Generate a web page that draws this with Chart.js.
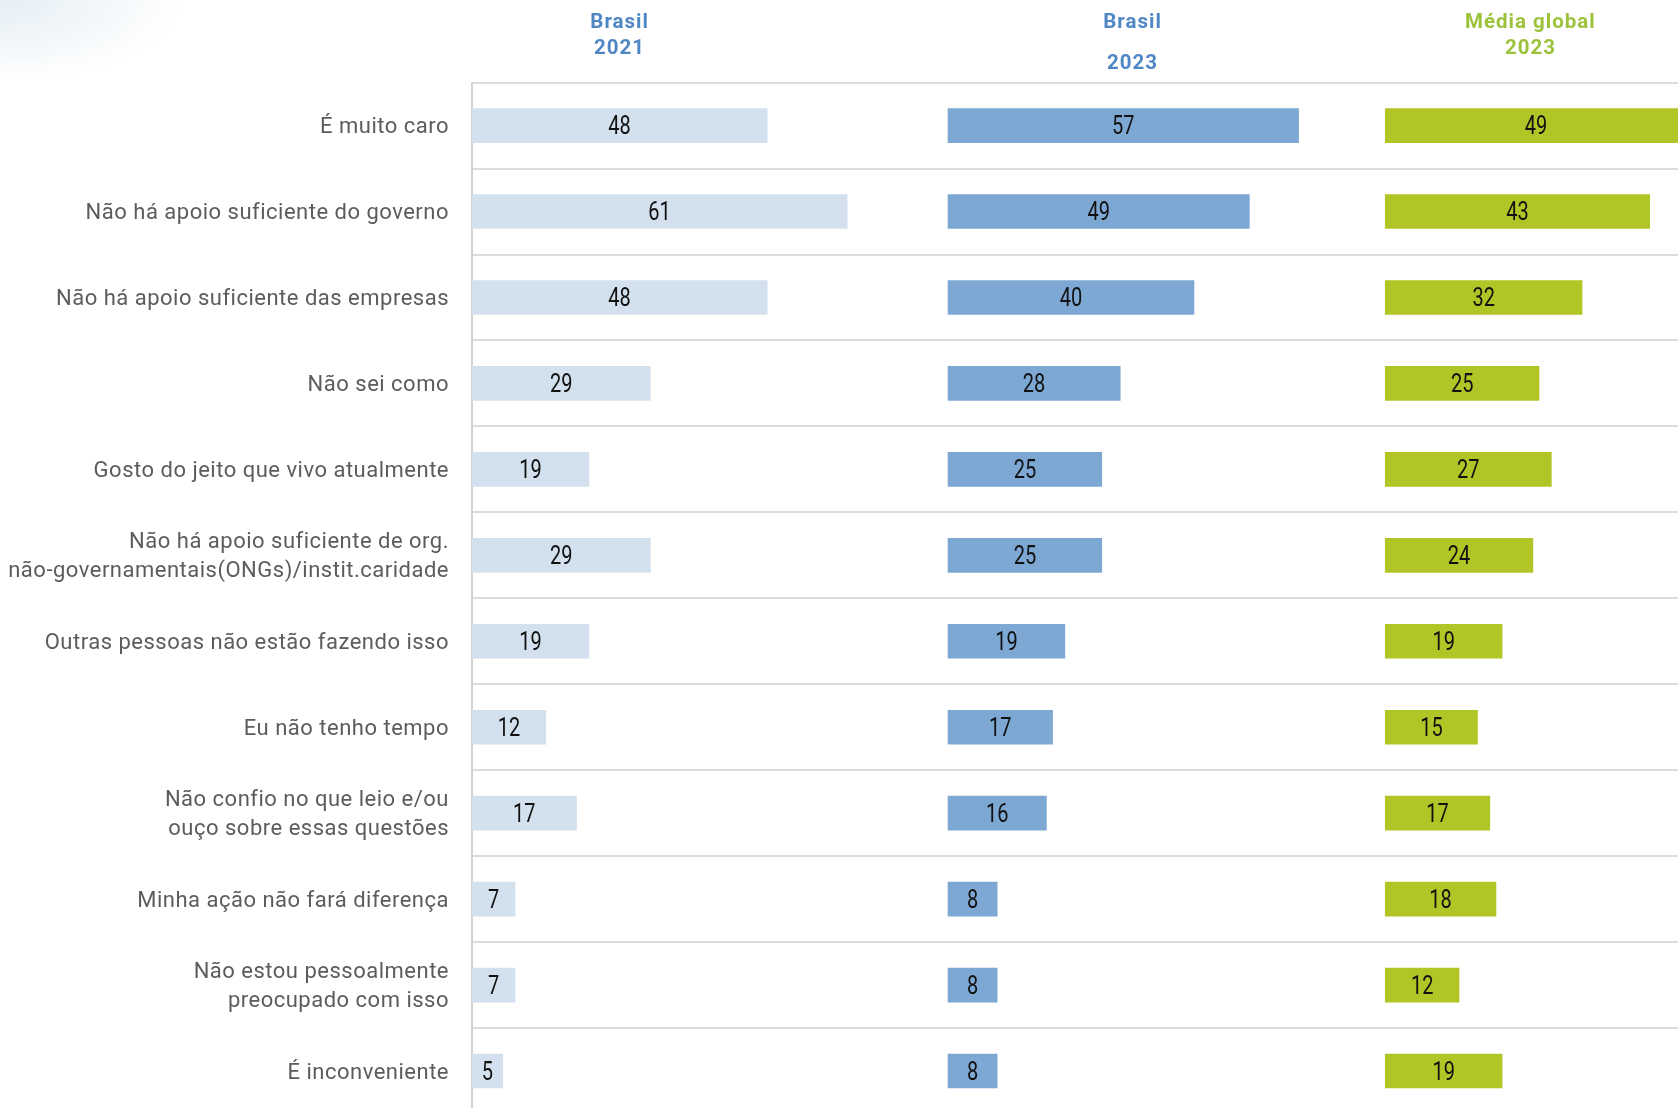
<!DOCTYPE html>
<html lang="pt">
<head>
<meta charset="utf-8">
<title>Barreiras para agir</title>
<script src="https://cdn.jsdelivr.net/npm/chart.js@4.4.1/dist/chart.umd.min.js"></script>
<style>
  html, body { margin: 0; padding: 0; width: 1678px; height: 1108px; overflow: hidden; background: #fff; }
  body {
    background:
      radial-gradient(ellipse 180px 80px at 0 0, rgba(230,239,245,1) 0%, rgba(238,244,248,0.75) 55%, rgba(255,255,255,0) 100%),
      #fff;
  }
  #wrap { position: absolute; left: 0; top: 0; width: 1678px; height: 1114px; }
</style>
</head>
<body>
<div id="wrap"><canvas id="chart"></canvas></div>
<script>
// Motivos para não agir (% de respondentes)
const categories = [
  'É muito caro',
  'Não há apoio suficiente do governo',
  'Não há apoio suficiente das empresas',
  'Não sei como',
  'Gosto do jeito que vivo atualmente',
  ['Não há apoio suficiente de org.', 'não-governamentais(ONGs)/instit.caridade'],
  'Outras pessoas não estão fazendo isso',
  'Eu não tenho tempo',
  ['Não confio no que leio e/ou', 'ouço sobre essas questões'],
  'Minha ação não fará diferença',
  ['Não estou pessoalmente', 'preocupado com isso'],
  'É inconveniente'
];
const brasil2021 = [48, 61, 48, 29, 19, 29, 19, 12, 17, 7, 7, 5];
const brasil2023 = [57, 49, 40, 28, 25, 25, 19, 17, 16, 8, 8, 8];
const global2023 = [49, 43, 32, 25, 27, 24, 19, 15, 17, 18, 12, 19];

const seriesHeaders = [['Brasil', '2021'], ['Brasil', '', '2023'], ['Média global', '2023']];

// Each series is laid out in its own panel along a shared x scale
const PANEL_START = [0, 77.4, 148.5];
const HEADER_CENTER = [24, 30, 23.6];
const X_MAX = 196.1;

const COLORS = ['#d3e0ed', '#7da8d4', '#b2c526'];
const HEADER_COLORS = ['#4f87c5', '#4f87c5', '#9cc23a'];

const seriesValues = [brasil2021, brasil2023, global2023];
const datasets = seriesValues.map((vals, i) => ({
  label: seriesHeaders[i].filter(Boolean).join(' '),
  data: vals.map(v => [PANEL_START[i], PANEL_START[i] + v]),
  rawValues: vals,
  backgroundColor: COLORS[i],
  borderWidth: 0,
  barThickness: 34,
  grouped: false
}));

// Narrow-set numerals drawn at the middle of each bar
const VALUE_FONT_SIZE = 25;
const VALUE_SQUEEZE = 0.8;

const textPlugin = {
  id: 'panelText',
  beforeDraw(chart) {
    chart.ctx.letterSpacing = '0.5px';
  },
  afterDatasetsDraw(chart) {
    const ctx = chart.ctx;
    ctx.save();
    ctx.letterSpacing = '0px';
    ctx.font = '400 ' + VALUE_FONT_SIZE + 'px Roboto';
    ctx.fillStyle = '#111';
    ctx.textAlign = 'center';
    ctx.textBaseline = 'alphabetic';
    chart.data.datasets.forEach((ds, di) => {
      const meta = chart.getDatasetMeta(di);
      meta.data.forEach((bar, j) => {
        const cx = (bar.x + bar.base) / 2;
        const cy = bar.y + VALUE_FONT_SIZE * 0.711 / 2;
        ctx.save();
        ctx.translate(cx, cy);
        ctx.scale(VALUE_SQUEEZE, 1);
        ctx.fillText(String(ds.rawValues[j]), 0, 0);
        ctx.restore();
      });
    });
    ctx.restore();
  },
  afterDraw(chart) {
    const ctx = chart.ctx;
    const xs = chart.scales.x;
    ctx.save();
    ctx.letterSpacing = '1px';
    ctx.font = '700 20.5px Roboto';
    ctx.textAlign = 'center';
    ctx.textBaseline = 'middle';
    seriesHeaders.forEach((lines, i) => {
      const cx = xs.getPixelForValue(PANEL_START[i] + HEADER_CENTER[i]);
      ctx.fillStyle = HEADER_COLORS[i];
      const step = lines.length === 3 ? 20.8 : 26.6;
      lines.forEach((t, k) => {
        if (t) ctx.fillText(t, cx, 22.5 + k * step);
      });
    });
    ctx.restore();
  }
};

new Chart(document.getElementById('chart'), {
  type: 'bar',
  data: { labels: categories, datasets },
  plugins: [textPlugin],
  options: {
    indexAxis: 'y',
    responsive: true,
    maintainAspectRatio: false,
    animation: false,
    layout: { padding: { top: 82.6, right: 0, bottom: 0, left: 0 } },
    plugins: {
      legend: { display: false },
      tooltip: { enabled: false }
    },
    scales: {
      x: {
        display: false,
        min: 0,
        max: X_MAX
      },
      y: {
        afterFit(scale) {
          scale.width = 472;
          scale.paddingTop = 0;
          scale.paddingBottom = 0;
        },
        grid: {
          offset: true,
          color: '#dcdcdc',
          lineWidth: 2,
          drawTicks: false
        },
        border: { display: true, color: '#d2d2d2', width: 2 },
        ticks: {
          color: '#5c5c5c',
          font: { family: 'Roboto', size: 22, weight: '400', lineHeight: 1.32 },
          padding: 23,
          labelOffset: 2,
          crossAlign: 'near'
        }
      }
    }
  }
});
</script>
</body>
</html>
